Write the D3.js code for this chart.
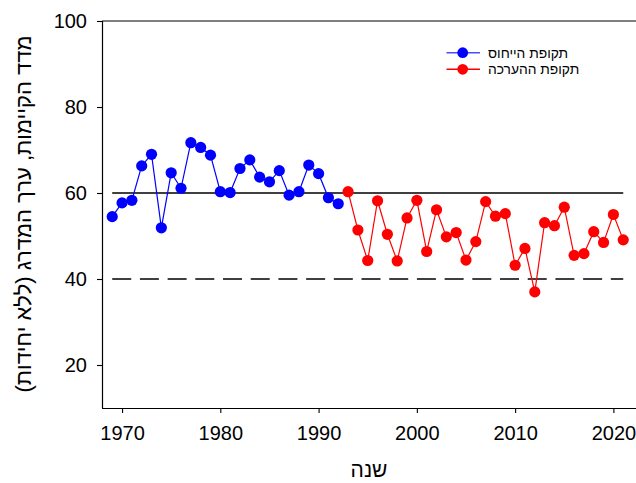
<!DOCTYPE html>
<html><head><meta charset="utf-8">
<script src="https://cdn.jsdelivr.net/npm/d3@7"></script>
<style>body{margin:0;background:#fff}svg{display:block}</style>
</head><body>
<svg id="c" width="636" height="483"></svg>
<script>
const refYears = [1969,1970,1971,1972,1973,1974,1975,1976,1977,1978,1979,1980,1981,1982,1983,1984,1985,1986,1987,1988,1989,1990,1991,1992];
const refValues = [54.5,57.7,58.3,66.3,69.0,51.9,64.7,61.1,71.7,70.6,68.8,60.3,60.1,65.7,67.7,63.7,62.6,65.2,59.5,60.3,66.5,64.5,58.9,57.5];
const evalYears = [1993,1994,1995,1996,1997,1998,1999,2000,2001,2002,2003,2004,2005,2006,2007,2008,2009,2010,2011,2012,2013,2014,2015,2016,2017,2018,2019,2020,2021];
const evalValues = [60.3,51.4,44.3,58.2,50.4,44.2,54.2,58.3,46.4,56.1,49.8,50.8,44.4,48.7,58.0,54.6,55.2,43.2,47.1,37.0,53.1,52.4,56.7,45.5,45.9,51.0,48.5,55.0,49.1];
const xTicks = [1970,1980,1990,2000,2010,2020];
const yTicks = [20,40,60,80,100];
const refLines = [{v:60, dash:null},{v:40, dash:"19,8.7"}];
const seriesNames = ["תקופת הייחוס","תקופת ההערכה"];
const colors = ["#0000ff","#ff0000"];
const xTitle = "שנה";
const yTitle = "מדד הקיימות, ערך המדרג (ללא יחידות)";

const svg = d3.select("#c");
const font = "Arial, 'Liberation Sans', sans-serif";
const x = d3.scaleLinear().domain([1967.96, 2022.3]).range([102, 636]);
const y = d3.scaleLinear().domain([10, 100]).range([408, 21]);

// axes
const gx = svg.append("g").attr("transform","translate(0,408)")
  .call(d3.axisBottom(x).tickValues(xTicks).tickFormat(d3.format("d")).tickSizeInner(5).tickSizeOuter(0).tickPadding(13));
const gy = svg.append("g").attr("transform","translate(102,0)")
  .call(d3.axisLeft(y).tickValues(yTicks).tickSizeInner(5).tickSizeOuter(0).tickPadding(10));
[gx,gy].forEach(g=>{
  g.selectAll("path").attr("stroke","#000").attr("stroke-width",1.2);
  g.selectAll("line").attr("stroke","#000").attr("stroke-width",1.1);
  g.selectAll("text").attr("font-family",font).attr("font-size",20).attr("fill","#000");
});
gx.select("path.domain").attr("d","M102,0.5H636");
gy.select("path.domain").attr("d","M0.5,21V408");
// top frame line
svg.append("line").attr("x1",102).attr("x2",636).attr("y1",y(100)).attr("y2",y(100)).attr("stroke","#000").attr("stroke-width",1.2);

// reference lines
svg.selectAll(".rl").data(refLines).enter().append("line")
  .attr("x1",x(1969)).attr("x2",x(2021))
  .attr("y1",d=>y(d.v)).attr("y2",d=>y(d.v))
  .attr("stroke","#000").attr("stroke-width",1.5)
  .attr("stroke-dasharray",d=>d.dash);

const line = d3.line().x(d=>x(d[0])).y(d=>y(d[1]));
const series = [d3.zip(refYears, refValues), d3.zip(evalYears, evalValues)];
series.forEach((s,i)=>{
  svg.append("path").datum(s).attr("d",line).attr("fill","none").attr("stroke",colors[i]).attr("stroke-width",1.2);
  svg.append("g").selectAll("circle").data(s).enter().append("circle")
    .attr("cx",d=>x(d[0])).attr("cy",d=>y(d[1])).attr("r",5.6).attr("fill",colors[i]);
});

// legend
const leg = svg.append("g");
seriesNames.forEach((n,i)=>{
  const yy = 52.7 + i*16.6;
  leg.append("line").attr("x1",446.5).attr("x2",480).attr("y1",yy).attr("y2",yy)
    .attr("stroke",colors[i]).attr("stroke-width",1.4).attr("stroke-opacity", i===0?0.7:1);
  leg.append("circle").attr("cx",462.7).attr("cy",yy).attr("r",5.4).attr("fill",colors[i]);
  leg.append("text").attr("x",488).attr("y",yy).attr("dy","0.35em")
    .attr("font-family",font).attr("font-size",13.8).attr("fill","#000")
    .attr("text-anchor","start").attr("direction","ltr").text(n);
});

// titles
svg.append("text").attr("x",369).attr("y",477).attr("text-anchor","middle")
  .attr("font-family",font).attr("font-size",21).attr("fill","#000").text(xTitle);
svg.append("text").attr("transform","translate(31,214) rotate(-90)").attr("text-anchor","middle")
  .attr("font-family",font).attr("font-size",22).attr("fill","#000").text(yTitle);
</script>
</body></html>
